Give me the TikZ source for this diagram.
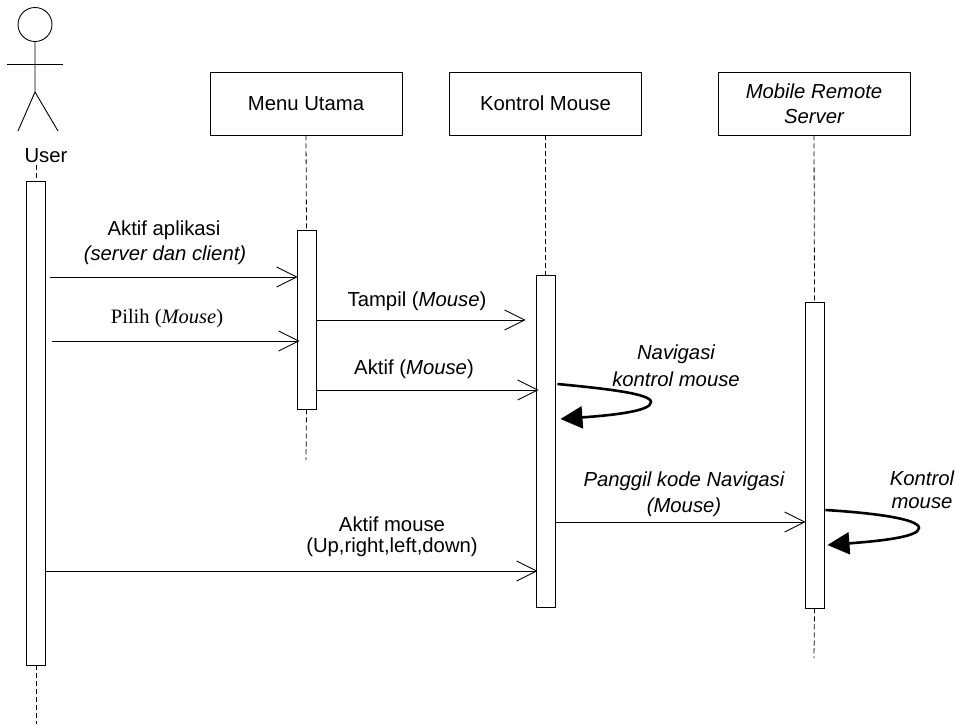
\documentclass[tikz,border=0pt]{standalone}
\usepackage{fontspec}
\setmainfont{Liberation Sans}
\newfontfamily\timesf{Liberation Serif}
\usetikzlibrary{arrows.meta}
\tikzset{
  txt/.style={inner sep=0pt,font=\fontsize{20.3}{20.3}\selectfont,anchor=center},
  headbox/.style={draw,line width=0.9pt,fill=white,minimum width=192pt,minimum height=63pt,inner sep=0pt,align=center,font=\fontsize{20.3}{25}\selectfont},
  activebar/.style={draw,line width=0.9pt,fill=white,minimum width=19pt,inner sep=0pt},
  lifeline/.style={dashed,dash pattern=on 5pt off 3pt,line width=0.8pt},
  msg/.style={line width=1pt,-{Straight Barb[length=20pt,width=20pt,line width=0.9pt]}},
  selfmsg/.style={line width=2.6pt,-{Triangle[length=22pt,width=22pt]}},
  actor/.style={line width=0.9pt}
}
\begin{document}
\begin{tikzpicture}[x=1pt,y=-1pt]
\useasboundingbox (0,0) rectangle (955,724);
% boxes
\node[headbox] (menu) at (306,103.5) {Menu Utama};
\node[headbox] (kontrol) at (545.5,103.5) {Kontrol Mouse};
\node[headbox] (server) at (814,103.5) {\itshape Mobile Remote\\\itshape Server};
% free ends
\coordinate (userlife) at (36,165);
\coordinate (userend) at (36,724);
\coordinate (menuend) at (306,460);
\coordinate (serverend) at (814,658);
% bars
\node[activebar,minimum height=484pt] (ubar) at (36,423) {};
\node[activebar,minimum height=179pt] (mbar) at (306.5,319.5) {};
\node[activebar,minimum height=332pt] (kbar) at (545.5,441) {};
\node[activebar,minimum height=306pt] (sbar) at (814.5,455) {};
% lifelines
\draw[lifeline] (userlife) -- (ubar.north);
\draw[lifeline] (ubar.south) -- (userend);
\draw[lifeline] (menu.south) -- (mbar.north);
\draw[lifeline] (mbar.south) -- (menuend);
\draw[lifeline] (kontrol.south) -- (kbar.north);
\draw[lifeline] (server.south) -- (sbar.north);
\draw[lifeline] (sbar.south) -- (serverend);
% actor
\coordinate (neck) at (35,42);
\coordinate (hip) at (35,92);
\coordinate (armL) at (7,64);
\coordinate (armR) at (63,64);
\coordinate (legL) at (18,131);
\coordinate (legR) at (58,131);
\draw[actor] (35,24.5) circle (17);
\draw[actor] (neck) -- (hip) -- (legL);
\draw[actor] (hip) -- (legR);
\draw[actor] (armL) -- (armR);
\node[txt] (userlabel) at (46,156) {User};
% messages
\draw[msg] ([xshift=4pt]ubar.east |- 0,277) -- ([xshift=1pt]mbar.west |- 0,277);
\draw[msg] ([xshift=6pt]ubar.east |- 0,341) -- ([xshift=3pt]mbar.west |- 0,341);
\draw[msg] (mbar.east |- 0,320) -- ([xshift=-10pt]kbar.west |- 0,320);
\draw[msg] (mbar.east |- 0,390) -- ([xshift=3pt]kbar.west |- 0,390);
\draw[msg] (kbar.east |- 0,522) -- ([xshift=1pt]sbar.west |- 0,522);
\draw[msg] (ubar.east |- 0,571) -- ([xshift=2pt]kbar.west |- 0,571);
% self messages
\draw[selfmsg] ([xshift=2pt]kbar.east |- 0,384) .. controls (610,389) and (651,394) .. (651,402) .. controls (651,411) and (615,415) .. ([xshift=5pt]kbar.east |- 0,419);
\draw[selfmsg] ([xshift=1pt]sbar.east |- 0,510) .. controls (875,513) and (919,519) .. (919,528) .. controls (919,537) and (880,541) .. ([xshift=3pt]sbar.east |- 0,545);
% labels
\node[txt] (l1a) at (164,230) {Aktif aplikasi};
\node[txt] (l1b) at (165,255) {\itshape (server dan client)};
\node[txt,font=\timesf\fontsize{20.5}{20.5}\selectfont] (l2) at (167,319) {Pilih (\textit{Mouse})};
\node[txt] (l3) at (417,301) {Tampil (\textit{Mouse})};
\node[txt] (l4) at (414,369) {Aktif (\textit{Mouse})};
\node[txt] (l5a) at (676,354) {\itshape Navigasi};
\node[txt] (l5b) at (676,379) {\itshape kontrol mouse};
\node[txt] (l6a) at (684,481) {\itshape Panggil kode Navigasi};
\node[txt] (l6b) at (684,507) {\itshape (Mouse)};
\node[txt] (l7a) at (922,478) {\itshape Kontrol};
\node[txt] (l7b) at (922,503) {\itshape mouse};
\node[txt] (l8a) at (392,524) {Aktif mouse};
\node[txt] (l8b) at (392,547) {(Up,right,left,down)};
\end{tikzpicture}
\end{document}
